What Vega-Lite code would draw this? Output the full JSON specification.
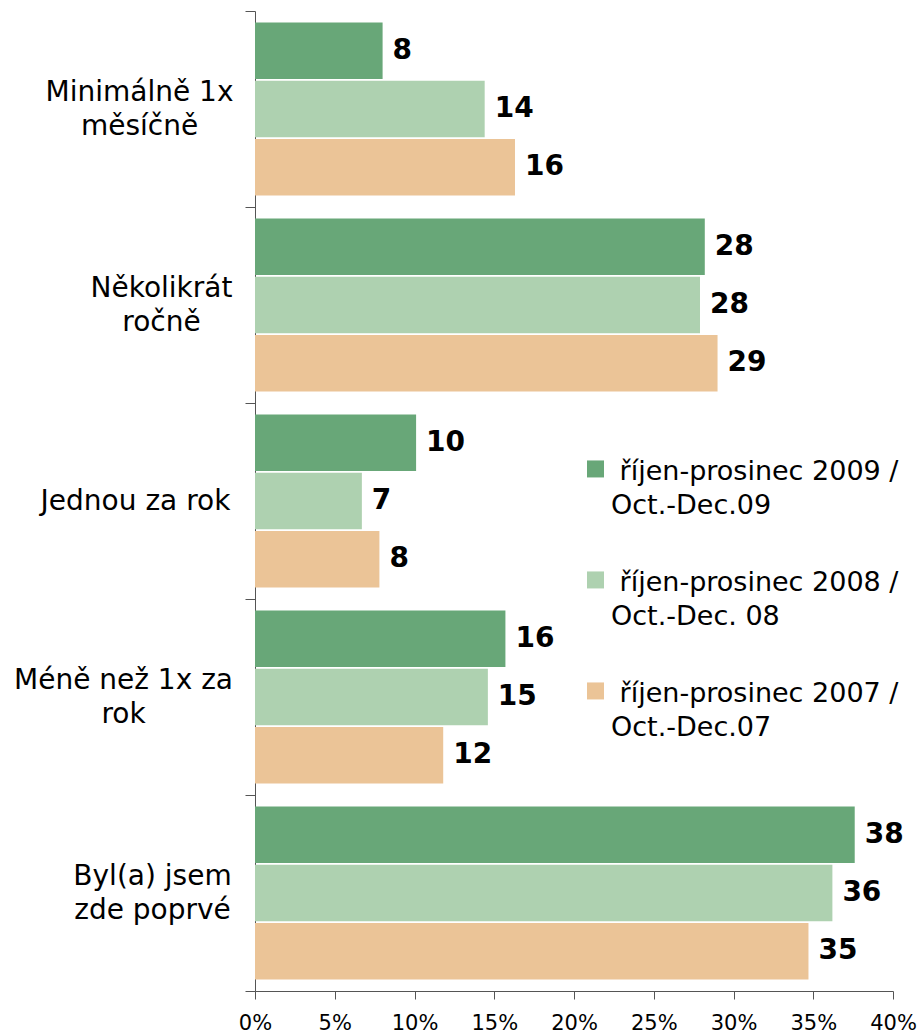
{
  "$schema": "https://vega.github.io/schema/vega-lite/v6.json",
  "width": 638,
  "height": 980,
  "autosize": {"type": "none"},
  "padding": {"left": 255, "top": 11, "right": 26, "bottom": 42},
  "background": "white",
  "config": {"view": {"stroke": null}, "font": "DejaVu Sans", "style": {"guide-label": {"lineHeight": 34}}},
  "data": {
    "values": [
      {"cat": "Minimálně 1x měsíčně", "period": "říjen-prosinec 2009 / Oct.-Dec.09", "value": 8.0},
      {"cat": "Minimálně 1x měsíčně", "period": "říjen-prosinec 2008 / Oct.-Dec. 08", "value": 14.4},
      {"cat": "Minimálně 1x měsíčně", "period": "říjen-prosinec 2007 / Oct.-Dec.07", "value": 16.3},
      {"cat": "Několikrát ročně", "period": "říjen-prosinec 2009 / Oct.-Dec.09", "value": 28.2},
      {"cat": "Několikrát ročně", "period": "říjen-prosinec 2008 / Oct.-Dec. 08", "value": 27.9},
      {"cat": "Několikrát ročně", "period": "říjen-prosinec 2007 / Oct.-Dec.07", "value": 29.0},
      {"cat": "Jednou za rok", "period": "říjen-prosinec 2009 / Oct.-Dec.09", "value": 10.1},
      {"cat": "Jednou za rok", "period": "říjen-prosinec 2008 / Oct.-Dec. 08", "value": 6.7},
      {"cat": "Jednou za rok", "period": "říjen-prosinec 2007 / Oct.-Dec.07", "value": 7.8},
      {"cat": "Méně než 1x za rok", "period": "říjen-prosinec 2009 / Oct.-Dec.09", "value": 15.7},
      {"cat": "Méně než 1x za rok", "period": "říjen-prosinec 2008 / Oct.-Dec. 08", "value": 14.6},
      {"cat": "Méně než 1x za rok", "period": "říjen-prosinec 2007 / Oct.-Dec.07", "value": 11.8},
      {"cat": "Byl(a) jsem zde poprvé", "period": "říjen-prosinec 2009 / Oct.-Dec.09", "value": 37.6},
      {"cat": "Byl(a) jsem zde poprvé", "period": "říjen-prosinec 2008 / Oct.-Dec. 08", "value": 36.2},
      {"cat": "Byl(a) jsem zde poprvé", "period": "říjen-prosinec 2007 / Oct.-Dec.07", "value": 34.7}
    ]
  },
  "encoding": {
    "y": {
      "field": "cat",
      "type": "nominal",
      "sort": ["Minimálně 1x měsíčně", "Několikrát ročně", "Jednou za rok", "Méně než 1x za rok", "Byl(a) jsem zde poprvé"],
      "scale": {"paddingInner": 0, "paddingOuter": 0},
      "axis": {
        "title": null,
        "tickBand": "extent",
        "tickSize": 10,
        "tickColor": "#555555",
        "domainColor": "#555555",
        "labelColor": "#000000",
        "labelFont": "DejaVu Sans",
        "labelFontSize": 28,
        "labelLineHeight": 34,
        "labelAlign": "center",
        "labelBaseline": "middle",
        "labelLimit": 400,
        "labelOffset": {
          "condition": {"test": "datum.value == 'Jednou za rok'", "value": 0},
          "value": -17
        },
        "labelPadding": {
          "condition": [
            {"test": "datum.value == 'Minimálně 1x měsíčně'", "value": 106},
            {"test": "datum.value == 'Několikrát ročně'", "value": 84},
            {"test": "datum.value == 'Jednou za rok'", "value": 110},
            {"test": "datum.value == 'Méně než 1x za rok'", "value": 122}
          ],
          "value": 93
        },
        "labelExpr": "datum.value == 'Minimálně 1x měsíčně' ? ['Minimálně 1x', 'měsíčně'] : datum.value == 'Několikrát ročně' ? ['Několikrát', 'ročně'] : datum.value == 'Méně než 1x za rok' ? ['Méně než 1x za', 'rok'] : datum.value == 'Byl(a) jsem zde poprvé' ? ['Byl(a) jsem', 'zde poprvé'] : datum.value"
      }
    },
    "yOffset": {
      "field": "period",
      "type": "nominal",
      "sort": ["říjen-prosinec 2009 / Oct.-Dec.09", "říjen-prosinec 2008 / Oct.-Dec. 08", "říjen-prosinec 2007 / Oct.-Dec.07"],
      "scale": {"paddingInner": 0.03, "paddingOuter": 0.197}
    },
    "x": {
      "field": "value",
      "type": "quantitative",
      "scale": {"domain": [0, 40], "nice": false},
      "axis": {
        "title": null,
        "grid": false,
        "values": [0, 5, 10, 15, 20, 25, 30, 35, 40],
        "labelExpr": "datum.value + '%'",
        "labelFlush": false,
        "labelFont": "DejaVu Sans",
        "labelFontSize": 21,
        "labelColor": "#000000",
        "labelPadding": 13,
        "tickSize": 8,
        "tickColor": "#555555",
        "domainColor": "#555555"
      }
    }
  },
  "layer": [
    {
      "mark": {"type": "bar"},
      "encoding": {
        "color": {
          "field": "period",
          "type": "nominal",
          "sort": ["říjen-prosinec 2009 / Oct.-Dec.09", "říjen-prosinec 2008 / Oct.-Dec. 08", "říjen-prosinec 2007 / Oct.-Dec.07"],
          "scale": {"range": ["#68a778", "#aed1b0", "#ebc497"]},
          "legend": {
            "orient": "none",
            "legendX": 327,
            "legendY": 447,
            "title": null,
            "padding": 0,
            "labelFont": "DejaVu Sans",
            "labelFontSize": 27,
            "labelColor": "#000000",
            "labelLimit": 500,
            "labelOffset": 2,
            "labelBaseline": "middle",
            "rowPadding": 49,
            "symbolType": "M-1,-1.3H1V0.7H-1Z",
            "symbolSize": 289,
            "symbolStrokeWidth": 0,
            "labelExpr": "['\u200b\u00a0' + split(datum.label, ' / ')[0] + ' /', split(datum.label, ' / ')[1]]"
          }
        }
      }
    },
    {
      "mark": {"type": "text", "align": "left", "baseline": "middle", "dx": 10, "font": "DejaVu Sans", "fontSize": 28, "fontWeight": "bold", "color": "#000000"},
      "encoding": {
        "text": {"field": "value", "type": "quantitative", "format": ".0f"}
      }
    }
  ]
}
